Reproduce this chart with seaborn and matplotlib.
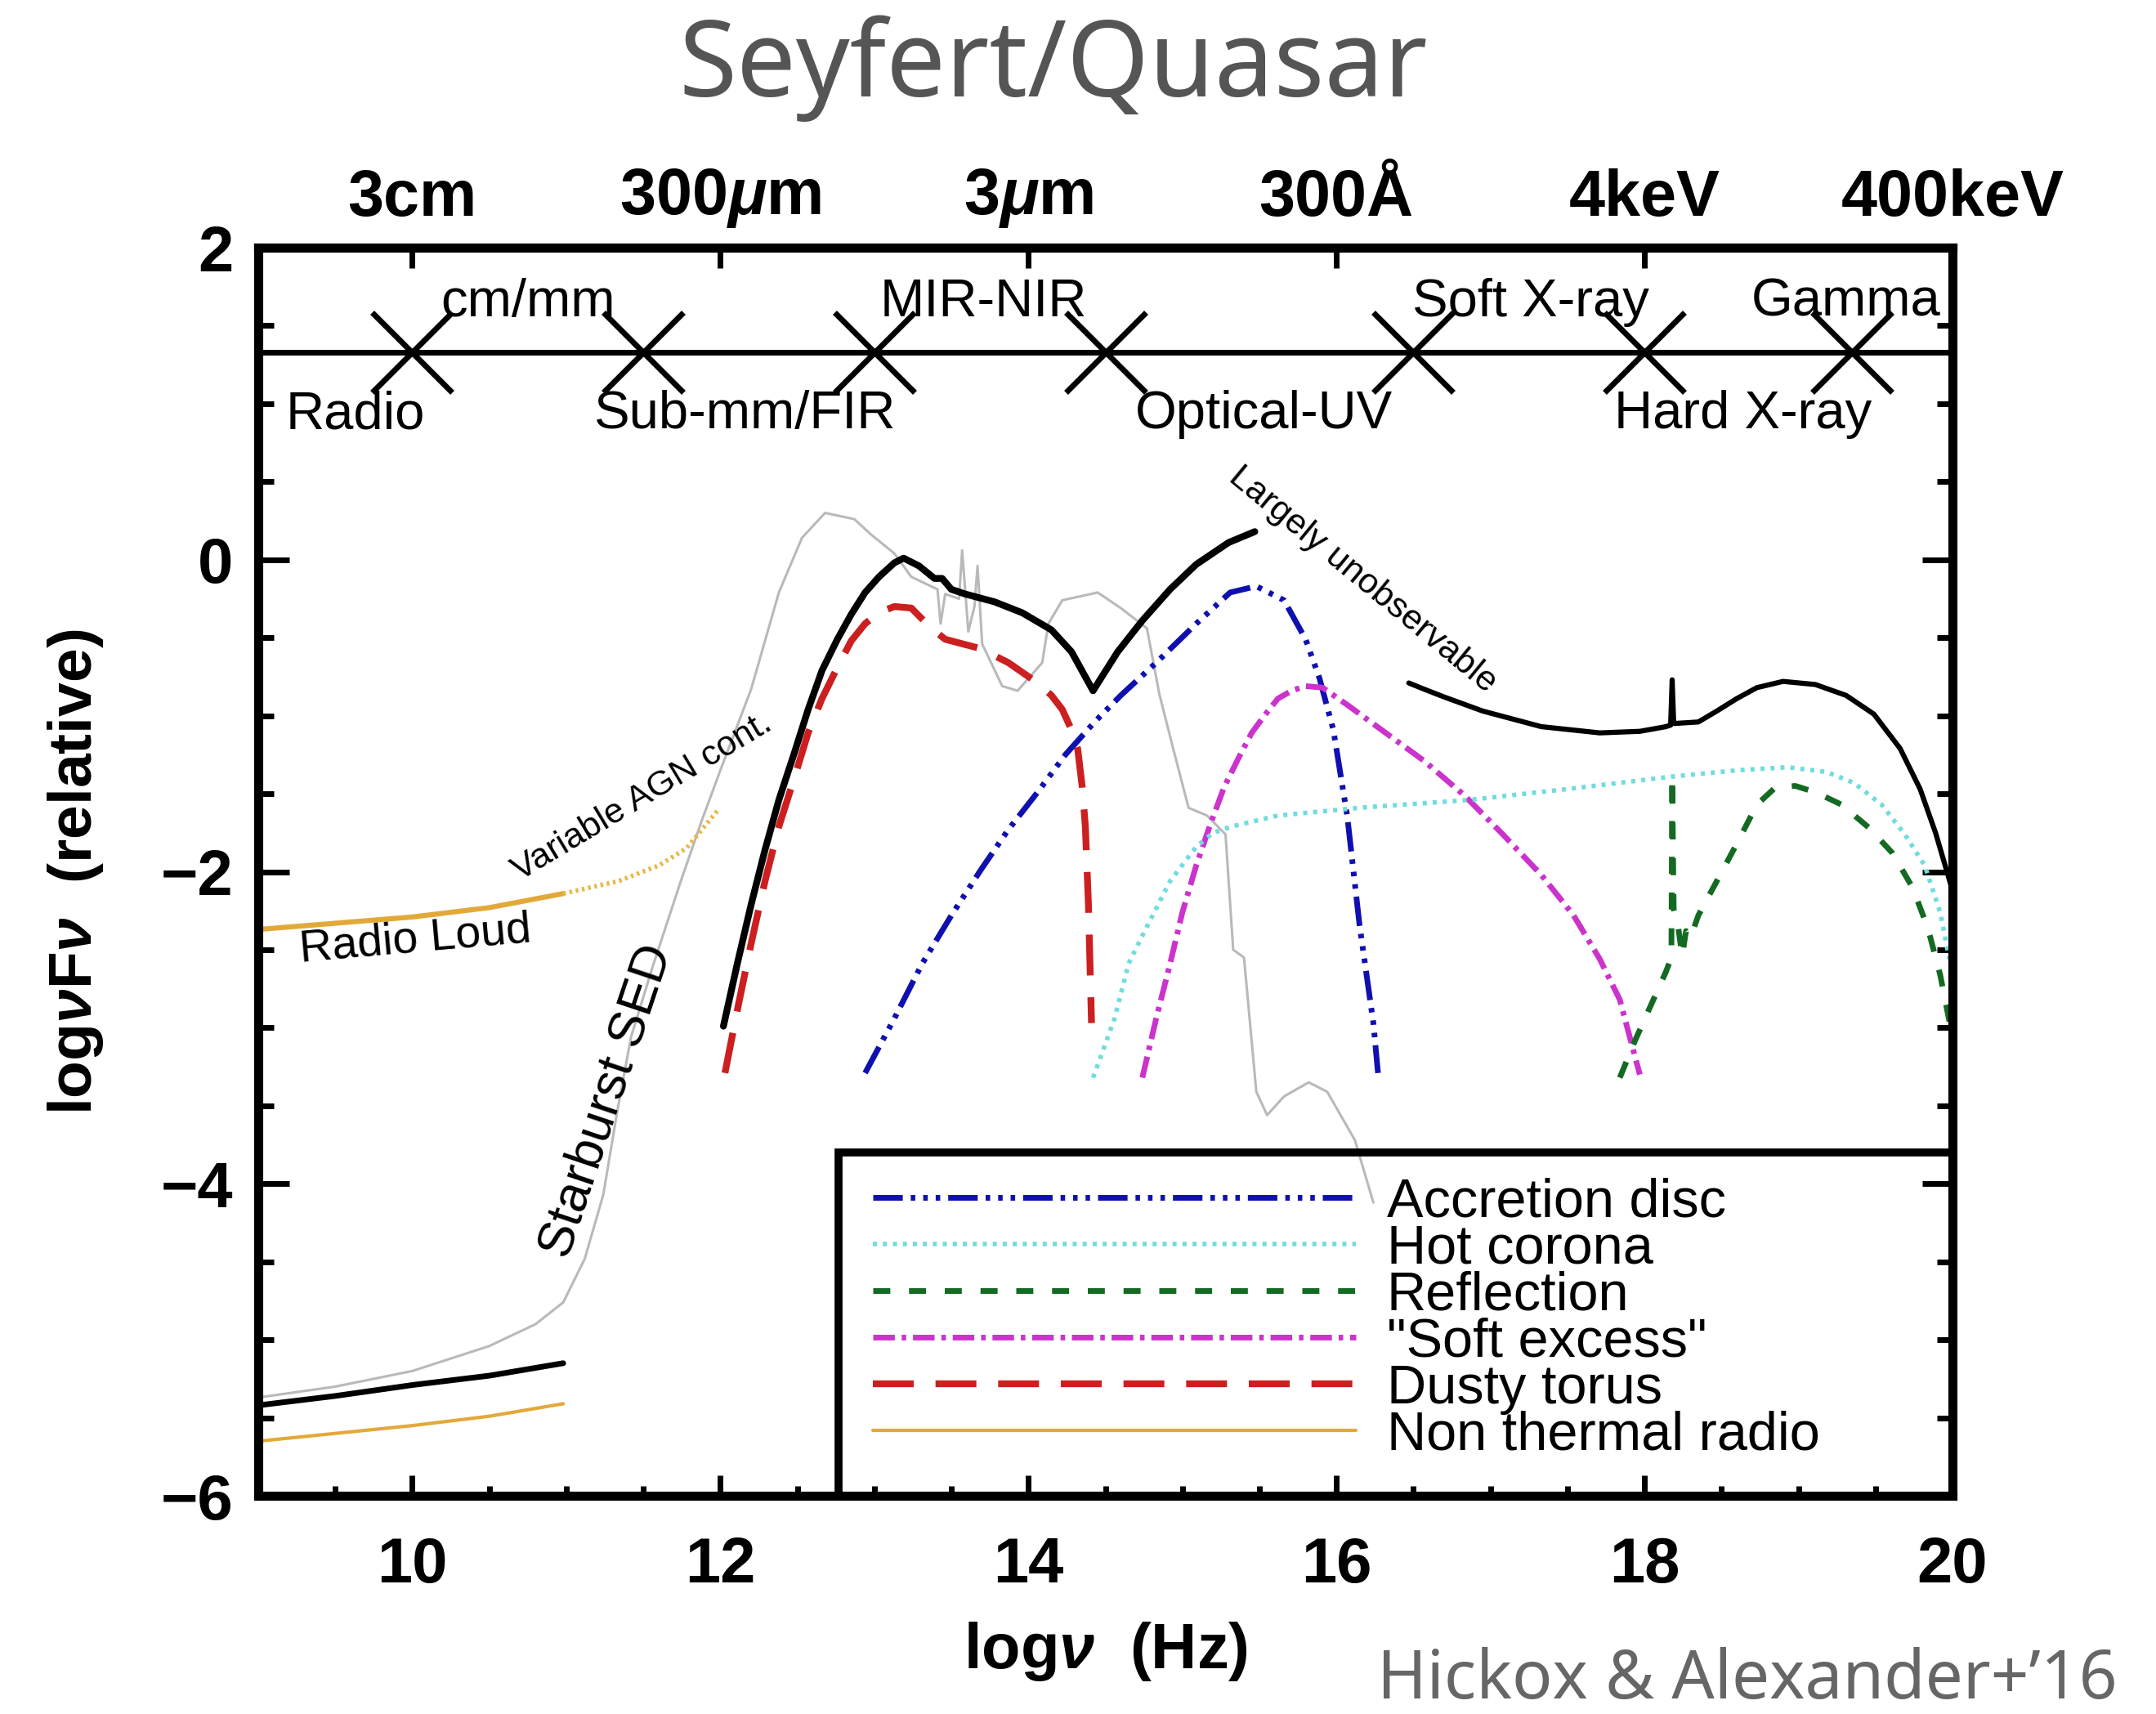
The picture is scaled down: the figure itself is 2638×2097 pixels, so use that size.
import seaborn as sns
import matplotlib.pyplot as plt
from matplotlib.ticker import MultipleLocator
from matplotlib.patches import Rectangle

# values: x = log nu (Hz), y = log nuFnu (relative)
starburst_x = [9.0, 9.5, 10.0, 10.5, 10.8, 10.98, 11.12, 11.24, 11.33, 11.42, 11.56, 11.74, 11.88,
               12.0, 12.2, 12.38, 12.53, 12.68, 12.87, 12.98, 13.13, 13.24, 13.41, 13.43, 13.46,
               13.55, 13.57, 13.61, 13.65, 13.67, 13.70, 13.83, 13.93, 14.09, 14.13, 14.22, 14.45,
               14.6, 14.77, 14.85, 14.94, 15.04, 15.16, 15.28, 15.33, 15.40, 15.48, 15.55, 15.66,
               15.82, 15.94, 16.12, 16.24]
starburst_y = [-5.37, -5.30, -5.20, -5.04, -4.90, -4.76, -4.48, -4.07, -3.54, -3.06, -2.61, -2.07, -1.67,
               -1.35, -0.83, -0.21, 0.14, 0.30, 0.26, 0.16, 0.04, -0.11, -0.19, -0.41, -0.22,
               -0.25, 0.06, -0.46, -0.30, -0.04, -0.54, -0.81, -0.84, -0.66, -0.41, -0.26, -0.21,
               -0.31, -0.44, -0.86, -1.21, -1.59, -1.64, -1.76, -2.50, -2.55, -3.41, -3.56, -3.44,
               -3.35, -3.41, -3.72, -4.12]

total_radio_x = [9.0, 9.5, 10.0, 10.5, 10.98]
total_radio_y = [-5.42, -5.36, -5.29, -5.23, -5.15]
total_ir_x = [12.02, 12.11, 12.20, 12.29, 12.38, 12.48, 12.57, 12.66, 12.76, 12.85, 12.94, 13.03, 13.13,
              13.19, 13.29, 13.39, 13.44, 13.50, 13.59, 13.78, 13.96, 14.15, 14.28, 14.42, 14.58,
              14.74, 14.92, 15.09, 15.3, 15.47]
total_ir_y = [-2.99, -2.59, -2.21, -1.86, -1.54, -1.24, -0.96, -0.71, -0.51, -0.35, -0.21, -0.11, -0.02,
              0.01, -0.04, -0.12, -0.12, -0.19, -0.22, -0.27, -0.34, -0.45, -0.59, -0.84, -0.59,
              -0.39, -0.19, -0.03, 0.11, 0.18]
total_xray_x = [16.47, 16.57, 16.70, 16.95, 17.33, 17.71, 17.97, 18.14, 18.17, 18.18, 18.19, 18.35,
                18.47, 18.60, 18.73, 18.90, 19.11, 19.31, 19.49, 19.66, 19.79, 19.89, 20.0]
total_xray_y = [-0.79, -0.83, -0.88, -0.97, -1.07, -1.11, -1.10, -1.07, -1.06, -0.77, -1.05, -1.04,
                -0.97, -0.89, -0.82, -0.78, -0.80, -0.87, -0.99, -1.21, -1.47, -1.75, -2.12]

torus_x = [12.03, 12.12, 12.20, 12.29, 12.38, 12.48, 12.57, 12.66, 12.76, 12.85, 12.94, 13.03, 13.13,
           13.24, 13.37, 13.46, 13.69, 13.87, 14.06, 14.15, 14.22, 14.28, 14.32, 14.35, 14.37,
           14.39, 14.41]
torus_y = [-3.29, -2.84, -2.46, -2.06, -1.71, -1.40, -1.11, -0.89, -0.69, -0.52, -0.41, -0.34, -0.30,
           -0.31, -0.44, -0.51, -0.57, -0.66, -0.79, -0.87, -0.96, -1.09, -1.21, -1.46, -1.71,
           -2.21, -2.97]

disc_x = [12.94, 13.13, 13.31, 13.50, 13.69, 13.87, 14.06, 14.24, 14.43, 14.60, 14.83, 15.09, 15.31,
          15.48, 15.66, 15.80, 15.89, 15.98, 16.07, 16.15, 16.24, 16.27]
disc_y = [-3.29, -2.94, -2.59, -2.28, -1.99, -1.73, -1.49, -1.25, -1.04, -0.87, -0.66, -0.41, -0.21,
          -0.17, -0.26, -0.51, -0.76, -1.09, -1.64, -2.34, -2.97, -3.29]

soft_x = [14.74, 14.83, 14.92, 15.00, 15.09, 15.18, 15.27, 15.36, 15.45, 15.54, 15.62, 15.71, 15.80,
          15.91, 16.07, 16.32, 16.57, 16.83, 17.08, 17.33, 17.54, 17.71, 17.84, 17.97]
soft_y = [-3.32, -2.94, -2.59, -2.26, -1.96, -1.70, -1.46, -1.28, -1.11, -0.99, -0.89, -0.84, -0.81,
          -0.82, -0.93, -1.11, -1.29, -1.51, -1.76, -2.02, -2.28, -2.56, -2.82, -3.30]

corona_x = [14.42, 14.56, 14.65, 14.74, 14.92, 15.09, 15.20, 15.32, 15.62, 16.15, 16.86, 17.50, 18.18,
            18.60, 18.93, 19.18, 19.36, 19.54, 19.69, 19.82, 19.92, 19.98]
corona_y = [-3.32, -2.94, -2.59, -2.41, -2.06, -1.84, -1.75, -1.71, -1.64, -1.59, -1.54, -1.47, -1.39,
            -1.35, -1.33, -1.36, -1.43, -1.57, -1.76, -1.96, -2.26, -2.56]

refl_x = [17.84, 17.94, 18.04, 18.14, 18.175, 18.18, 18.19, 18.22, 18.245, 18.27, 18.30, 18.35,
          18.47, 18.60, 18.73, 18.85, 18.98, 19.11, 19.28, 19.46, 19.61, 19.74, 19.84, 19.92, 19.98]
refl_y = [-3.32, -3.08, -2.86, -2.64, -2.55, -1.39, -2.24, -2.36, -2.54, -2.38, -2.42, -2.28,
          -2.06, -1.82, -1.57, -1.46, -1.45, -1.49, -1.57, -1.72, -1.88, -2.10, -2.36, -2.66, -2.96]

radio_quiet_x = [9.0, 9.5, 10.0, 10.5, 10.98]
radio_quiet_y = [-5.65, -5.60, -5.55, -5.49, -5.41]
radio_loud_x = [9.0, 9.5, 10.0, 10.5, 10.98]
radio_loud_y = [-2.37, -2.33, -2.29, -2.23, -2.14]
agn_var_x = [10.98, 11.34, 11.6, 11.78, 11.98]
agn_var_y = [-2.14, -2.06, -1.96, -1.85, -1.61]

band_edges = [10, 11.5, 13, 14.5, 16.5, 18, 19.35]
band_level = 1.33
upper_bands = ['cm/mm', 'MIR-NIR', 'Soft X-ray', 'Gamma']
upper_band_x = [10.75, 13.71, 17.26, 19.31]
lower_bands = ['Radio', 'Sub-mm/FIR', 'Optical-UV', 'Hard X-ray']
lower_band_x = [9.63, 12.16, 15.53, 18.64]

top_ticks = [10, 12, 14, 16, 18, 20]
top_labels = ['3cm', r'300$\mu$m', r'3$\mu$m', '300Å', '4keV', '400keV']

legend_labels = ['Accretion disc', 'Hot corona', 'Reflection', '"Soft excess"', 'Dusty torus',
                 'Non thermal radio']

sns.set_style('ticks')
plt.rcParams['font.family'] = ['Liberation Sans', 'DejaVu Sans']
plt.rcParams['mathtext.fontset'] = 'custom'
plt.rcParams['mathtext.it'] = 'Liberation Sans:italic:bold'
plt.rcParams['mathtext.rm'] = 'Liberation Sans:bold'
plt.rcParams['mathtext.bf'] = 'Liberation Sans:bold'
for key in ['axes.edgecolor', 'axes.labelcolor', 'text.color', 'xtick.color', 'ytick.color']:
    plt.rcParams[key] = 'black'

fig = plt.figure(figsize=(26.38, 20.97), dpi=100)
ax = fig.add_axes([0.1198, 0.1273, 0.7858, 0.7282])


def draw(x, y, color, lw, ls='-', z=2):
    sns.lineplot(x=x, y=y, ax=ax, color=color, linewidth=lw, linestyle=ls, sort=False,
                 estimator=None, errorbar=None, legend=False, zorder=z)
    return ax.lines[-1]


draw(starburst_x, starburst_y, '#b9b9b9', 2.2, z=1)
draw(total_radio_x, total_radio_y, 'black', 5)
draw(total_ir_x, total_ir_y, 'black', 6)
draw(total_xray_x, total_xray_y, 'black', 4.5)
h_torus = draw(torus_x, torus_y, '#cc1f1f', 6, (0, (6, 3.2)))
h_disc = draw(disc_x, disc_y, '#1010b0', 5, (0, (5.2, 1.4, 0.8, 1.4, 0.8, 1.4, 0.8, 1.4)))
h_soft = draw(soft_x, soft_y, '#cc33cc', 5, (0, (3.8, 1.2, 0.8, 1.2)))
h_corona = draw(corona_x, corona_y, '#72dcdc', 4, (0, (0.9, 1.3)))
h_refl = draw(refl_x, refl_y, '#146a22', 5, (0, (3.0, 3.3)))
h_radio = draw(radio_quiet_x, radio_quiet_y, '#e2a93a', 3)
draw(radio_loud_x, radio_loud_y, '#e2a93a', 4.5)
draw(agn_var_x, agn_var_y, '#e8b84a', 4, (0, (0.6, 0.8)))

# band strip along the top
draw([9, 20], [band_level, band_level], 'black', 5)
sns.lineplot(x=band_edges, y=[band_level] * len(band_edges), ax=ax, linestyle='', marker='x',
             markersize=70, markeredgewidth=5, markeredgecolor='black', color='black',
             sort=False, estimator=None, legend=False)
for name, xb in zip(upper_bands, upper_band_x):
    ax.text(xb, 1.65, name, ha='center', va='center', fontsize=47)
for name, xb in zip(lower_bands, lower_band_x):
    ax.text(xb, 0.93, name, ha='center', va='center', fontsize=47)

ax.text(10.02, -2.44, 'Radio Loud', ha='center', va='center', fontsize=40, rotation=5)
ax.text(11.26, -3.47, 'Starburst SED', ha='center', va='center', fontsize=45, rotation=71.5)
ax.text(11.49, -1.52, 'Variable AGN cont.', ha='center', va='center', fontsize=31, rotation=31)
ax.text(16.17, -0.13, 'Largely unobservable', ha='center', va='center', fontsize=31, rotation=-39.5)

ax.set_xlim(9, 20)
ax.set_ylim(-6, 2)
ax.set_xticks([10, 12, 14, 16, 18, 20])
ax.set_yticks([-6, -4, -2, 0, 2])
ax.xaxis.set_minor_locator(MultipleLocator(0.5))
ax.yaxis.set_minor_locator(MultipleLocator(0.5))
for lab in ax.get_xticklabels() + ax.get_yticklabels():
    lab.set_fontweight('bold')
ax.tick_params(axis='x', which='major', direction='in', length=18, width=5, labelsize=56, pad=35,
               top=False)
ax.tick_params(axis='x', which='minor', direction='in', length=9, width=5, top=False)
ax.tick_params(axis='y', which='major', direction='in', length=27, width=5, labelsize=56, pad=22,
               right=True)
ax.tick_params(axis='y', which='minor', direction='in', length=14, width=5, right=True)
for sp in ax.spines.values():
    sp.set_linewidth(8)
    sp.set_visible(True)

sec = ax.secondary_xaxis('top')
sec.set_xticks(top_ticks)
sec.set_xticklabels(top_labels, fontweight='bold')
sec.tick_params(direction='in', length=18, width=5, labelsize=57, pad=16)
sec.spines['top'].set_linewidth(8)

ax.set_xlabel(r'log$\nu$  (Hz)', fontsize=56, fontweight='bold')
ax.set_ylabel(r'log$\nu$F$\nu$  (relative)', fontsize=54, fontweight='bold')
ax.xaxis.set_label_coords(0.5, -0.0995)
ax.yaxis.set_label_coords(-0.09, 0.5)

# legend box in the lower right
ax.add_patch(Rectangle((12.77, -6), 20 - 12.77, 2.2, fill=False, lw=7, ec='black', zorder=5))
ax.legend(handles=[h_disc, h_corona, h_refl, h_soft, h_torus, h_radio], labels=legend_labels,
          loc='upper left', bbox_to_anchor=(12.99, -3.96), bbox_transform=ax.transData,
          frameon=False, fontsize=48, handlelength=8.86, handletextpad=0.57, labelspacing=-0.075,
          borderpad=0, borderaxespad=0)

fig.text(0.4886, 0.960, 'Seyfert/Quasar', ha='center', va='center', fontsize=93,
         color='#555555', family='Noto Sans')
fig.text(0.982, 0.009, 'Hickox & Alexander+’16', ha='right', va='baseline', fontsize=59,
         color='#666666', family='Noto Sans')

fig.savefig('out.png', dpi=100)
